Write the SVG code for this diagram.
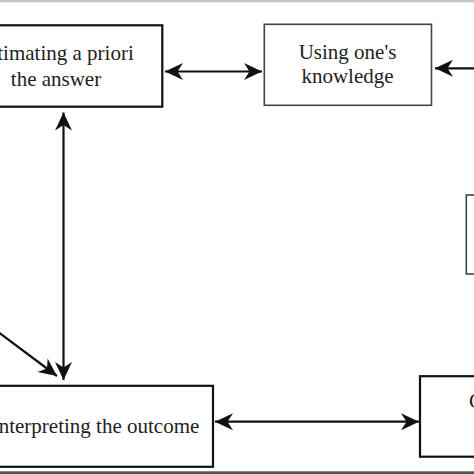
<svg xmlns="http://www.w3.org/2000/svg" width="474" height="474" viewBox="0 0 474 474">
<style>
.box{fill:#fff;stroke:#111;stroke-width:2.2}
.box2{fill:#fff;stroke:#444;stroke-width:1.6}
.lbl{font-family:"Liberation Serif","Times New Roman",serif;font-size:21px;fill:#1e1e1e;text-anchor:middle}
.conn{stroke:#111;stroke-width:2.2;fill:none}
</style>
<defs>
<marker id="ah" markerUnits="userSpaceOnUse" viewBox="-19 -10 21 20" refX="0" refY="0" markerWidth="21" markerHeight="20" orient="auto-start-reverse">
<path d="M0,0 L-18,-8.5 L-12.5,0 L-18,8.5 Z" fill="#111"/>
</marker>
</defs>
<rect x="0" y="0" width="474" height="474" fill="#fff"/>
<rect x="0" y="0" width="474" height="2.3" fill="#c4c4c4"/>
<rect x="0" y="471.3" width="474" height="2.7" fill="#555"/>
<g id="connectors">
<line class="conn" x1="165" y1="71.5" x2="262" y2="71.5" marker-start="url(#ah)" marker-end="url(#ah)"/>
<line class="conn" x1="476" y1="68.3" x2="435" y2="68.3" marker-end="url(#ah)"/>
<line class="conn" x1="63.5" y1="112.5" x2="63.5" y2="380" marker-start="url(#ah)" marker-end="url(#ah)"/>
<line class="conn" x1="-2" y1="332" x2="57" y2="376" marker-end="url(#ah)"/>
<line class="conn" x1="215" y1="421.7" x2="419" y2="421.7" marker-start="url(#ah)" marker-end="url(#ah)"/>
</g>
<g id="node-estimating">
<rect class="box" x="-50" y="25.3" width="212.3" height="81.4"/>
<text class="lbl" x="55" y="60">Estimating a priori</text>
<text class="lbl" x="56" y="85.5">the answer</text>
</g>
<g id="node-knowledge">
<rect class="box2" x="264.3" y="24.3" width="167.2" height="81"/>
<text class="lbl" x="347.5" y="59">Using one's</text>
<text class="lbl" x="347.5" y="83">knowledge</text>
</g>
<g id="node-interpreting">
<rect class="box" x="-30" y="385.8" width="243" height="81"/>
<text class="lbl" x="95.5" y="433">Interpreting the outcome</text>
</g>
<g id="node-bottom-right">
<rect class="box" x="420" y="376.2" width="120" height="80.5"/>
<text class="lbl" x="469" y="408" style="text-anchor:start">C</text>
</g>
<g id="node-right">
<rect class="box2" x="466.3" y="195" width="80" height="79"/>
</g>
</svg>
